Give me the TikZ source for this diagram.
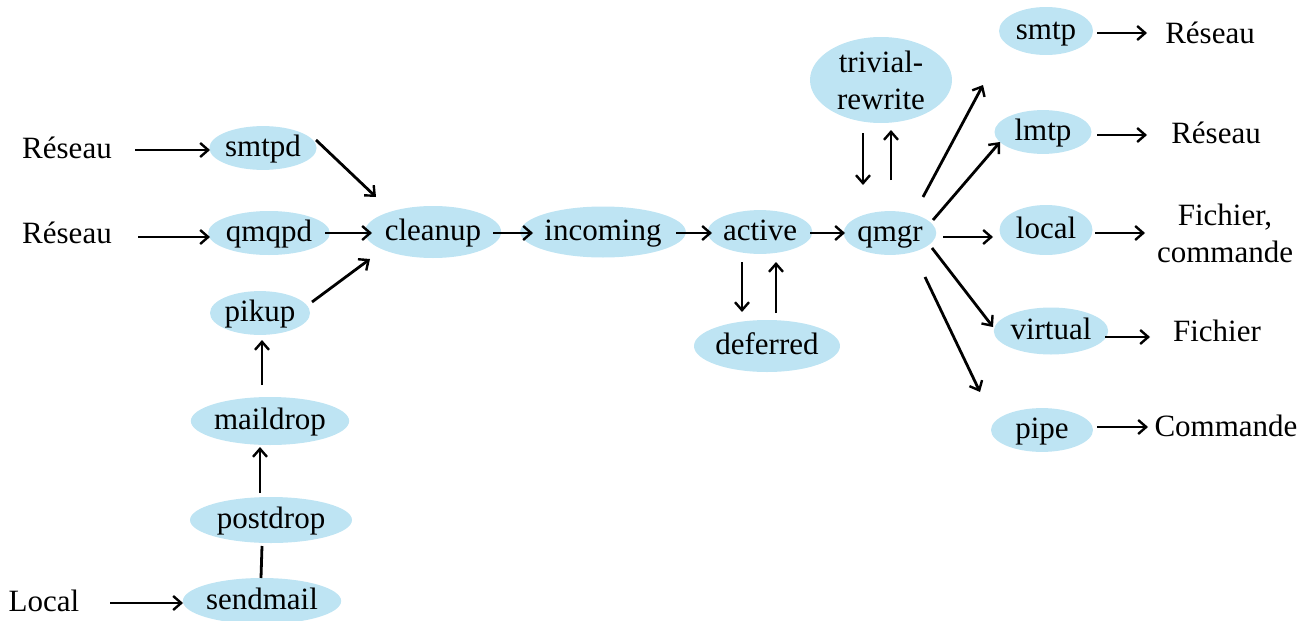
\documentclass[tikz,border=0pt]{standalone}
\usepackage{fontspec}
\setmainfont{Liberation Serif}
\usetikzlibrary{shapes.geometric,arrows.meta}
\definecolor{nodeblue}{RGB}{190,228,243}
\begin{document}
\begin{tikzpicture}[x=1pt,y=-1pt,
  every node/.style={font=\fontsize{31}{37}\selectfont, inner sep=0pt},
  ell/.style={ellipse, fill=nodeblue, text height=24pt, text depth=7pt},
  ell2/.style={ellipse, fill=nodeblue},
  lbl/.style={align=center},
  arr/.style={line width=2.8pt, -{Straight Barb[length=8pt,width=14pt,line width=2.4pt]}},
  ln/.style={line width=2.8pt}]
\useasboundingbox (0,0) rectangle (1309,621);
% nodes
\node[ell, minimum width=100, minimum height=40] (smtpd) at (263,148) {smtpd};
\node[ell, minimum width=112, minimum height=44] (qmqpd) at (269,233) {qmqpd};
\node[ell, minimum width=100, minimum height=42] (pikup) at (260,313) {pikup};
\node[ell, minimum width=155, minimum height=48] (maildrop) at (270,421) {maildrop};
\node[ell, minimum width=162, minimum height=46] (postdrop) at (271,520) {postdrop};
\node[ell, minimum width=157, minimum height=46] (sendmail) at (262,601) {sendmail};
\node[ell, minimum width=120, minimum height=52] (cleanup) at (433,232) {cleanup};
\node[ell, minimum width=139, minimum height=51] (incoming) at (603,232) {incoming};
\node[ell, minimum width=95, minimum height=43] (active) at (760,232) {active};
\node[ell, minimum width=130, minimum height=52] (deferred) at (767,346) {deferred};
\node[ell, minimum width=90, minimum height=38] (qmgr) at (890,233) {qmgr};
\node[ell2, minimum width=142, minimum height=86, align=center] (trivial) at (881,80) {trivial-\\rewrite};
\node[ell, minimum width=94, minimum height=48] (smtp) at (1046,31) {smtp};
\node[ell, minimum width=97, minimum height=40] (lmtp) at (1043,132) {lmtp};
\node[ell, minimum width=93, minimum height=50] (local) at (1046,230) {local};
\node[ell, minimum width=112, minimum height=47] (virtual) at (1051,331) {virtual};
\node[ell, minimum width=102, minimum height=40] (pipe) at (1042,430) {pipe};
% labels
\node[lbl] (r1) at (67,148) {Réseau};
\node[lbl] (r2) at (67,233) {Réseau};
\node[lbl] (loc) at (44,601) {Local};
\node[lbl] (o1) at (1210,33) {Réseau};
\node[lbl] (o2) at (1216,133) {Réseau};
\node[lbl] (o3) at (1225,233) {Fichier,\\commande};
\node[lbl] (o4) at (1217,331) {Fichier};
\node[lbl] (o5) at (1226,426) {Commande};
% connectors
\draw[arr] ([shift={(68,2)}]r1.center) -- ([shift={(-53,2)}]smtpd.center);
\draw[arr] ([shift={(71,4)}]r2.center) -- ([shift={(-59,4)}]qmqpd.center);
\draw[arr] ([shift={(53,-8)}]smtpd.center) -- ([shift={(-57,-35)}]cleanup.center);
\draw[arr] ([shift={(56,0)}]qmqpd.center) -- ([shift={(-61,1)}]cleanup.center);
\draw[arr] ([shift={(52,-11)}]pikup.center) -- ([shift={(-63,27)}]cleanup.center);
\draw[arr] ([shift={(-8,-36)}]maildrop.center) -- ([shift={(2,27)}]pikup.center);
\draw[arr] ([shift={(-11,-27)}]postdrop.center) -- ([shift={(-10,26)}]maildrop.center);
\draw[ln] ([shift={(-9,26)}]postdrop.center) -- ([shift={(-1,-23)}]sendmail.center);
\draw[arr] ([shift={(66,2)}]loc.center) -- ([shift={(-79,2)}]sendmail.center);
\draw[arr] ([shift={(60,1)}]cleanup.center) -- ([shift={(-70,1)}]incoming.center);
\draw[arr] ([shift={(73,1)}]incoming.center) -- ([shift={(-48,1)}]active.center);
\draw[arr] ([shift={(-18,30)}]active.center) -- ([shift={(-25,-34)}]deferred.center);
\draw[arr] ([shift={(9,-33)}]deferred.center) -- ([shift={(16,30)}]active.center);
\draw[arr] ([shift={(50,1)}]active.center) -- ([shift={(-45,0)}]qmgr.center);
\draw[arr] ([shift={(-18,53)}]trivial.center) -- ([shift={(-27,-48)}]qmgr.center);
\draw[arr] ([shift={(1,-53)}]qmgr.center) -- ([shift={(10,50)}]trivial.center);
\draw[arr] ([shift={(33,-36)}]qmgr.center) -- ([shift={(-63,54)}]smtp.center);
\draw[arr] ([shift={(43,-13)}]qmgr.center) -- ([shift={(-43,10)}]lmtp.center);
\draw[arr] ([shift={(53,4)}]qmgr.center) -- ([shift={(-53,7)}]local.center);
\draw[arr] ([shift={(42,15)}]qmgr.center) -- ([shift={(-58,-4)}]virtual.center);
\draw[arr] ([shift={(35,44)}]qmgr.center) -- ([shift={(-62,-38)}]pipe.center);
\draw[arr] ([shift={(51,2)}]smtp.center) -- ([shift={(-63,0)}]o1.center);
\draw[arr] ([shift={(54,3)}]lmtp.center) -- ([shift={(-69,2)}]o2.center);
\draw[arr] ([shift={(49,3)}]local.center) -- ([shift={(-80,0)}]o3.center);
\draw[arr] ([shift={(54,6)}]virtual.center) -- ([shift={(-67,6)}]o4.center);
\draw[arr] ([shift={(55,-3)}]pipe.center) -- ([shift={(-78,1)}]o5.center);
\end{tikzpicture}
\end{document}
